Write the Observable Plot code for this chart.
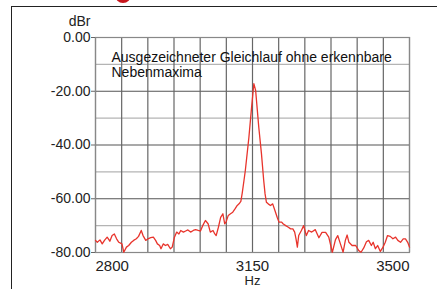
<!DOCTYPE html>
<html>
<head>
<meta charset="utf-8">
<script src="https://cdn.jsdelivr.net/npm/d3@7"></script>
<script src="https://cdn.jsdelivr.net/npm/@observablehq/plot@0.6"></script>
<style>
  html, body { margin: 0; padding: 0; background: #fff; overflow: hidden; }
  #wrap { position: relative; width: 437px; height: 289px; overflow: hidden; font-family: "Liberation Sans", Arial, sans-serif; }
  #wrap svg { position: absolute; left: 0; top: 0; }
  #border { position: absolute; left: 11px; top: 6px; right: -2px; bottom: -2px; border-left: 1.5px solid #222; border-top: 1.5px solid #222; }
  #dot { position: absolute; left: 115px; top: -13px; width: 16px; height: 16px; border-radius: 50%; background: #c8161d; }
</style>
</head>
<body>
<div id="wrap"><div id="dot"></div><div id="border"></div></div>
<script>
const freq = [2800,2804,2810,2815,2820,2826,2832,2837,2842,2847,2852,2859,2863,2869,2874,2880,2885,2891,2896,2902,2906,2912,2917,2923,2929,2934,2938,2943,2946,2951,2956,2961,2967,2971,2976,2981,2986,2990,2996,3001,3006,3012,3018,3023,3029,3034,3039,3045,3051,3056,3062,3066,3069,3074,3079,3084,3088,3091,3096,3101,3106,3111,3116,3120,3124,3127,3131,3134,3142,3148,3153,3157,3164,3170,3175,3178,3181,3185,3190,3195,3200,3205,3209,3215,3218,3224,3230,3235,3240,3244,3247,3250,3253,3259,3264,3270,3275,3282,3290,3298,3305,3313,3320,3328,3335,3340,3346,3352,3357,3361,3365,3372,3380,3387,3392,3398,3404,3409,3415,3419,3424,3429,3435,3441,3446,3451,3457,3463,3469,3474,3480,3486,3491,3496,3500];
const dbr = [-75.5,-76.2,-75.3,-76.8,-75.5,-74.3,-75.8,-73.7,-73.1,-74.9,-76.2,-76.8,-79.9,-78,-77.4,-76.2,-75.5,-74.9,-74,-71.8,-73.7,-75.5,-74.9,-74.5,-74.3,-75.5,-76.8,-77.4,-78.6,-76.8,-77.4,-77,-78.6,-78,-74.3,-72.4,-73.1,-71.8,-72.4,-72,-71.6,-72.4,-71.8,-71.5,-71.8,-72,-70,-68.1,-69.3,-72.4,-71.8,-73.1,-73.7,-70.6,-66.9,-65.6,-69.3,-68.7,-66.2,-65.6,-65,-63.8,-62.5,-61.9,-61,-58,-53.2,-49.5,-37.1,-25.9,-17.2,-19.7,-33.4,-43.3,-53.2,-58.2,-61.3,-61.9,-62.5,-61.9,-64.4,-66.9,-68.7,-68.7,-69.3,-70,-70.6,-71.2,-71.2,-72.4,-74.9,-78,-73.7,-71.8,-70,-73.7,-71.8,-72.4,-71.5,-74.5,-72.5,-72.5,-74.3,-79.9,-75.2,-73.7,-76.8,-79.9,-75.5,-73.5,-76.2,-77.4,-77.4,-79.3,-79.9,-78.3,-76,-75.5,-77.4,-76.2,-78.6,-77.4,-79.6,-78,-76.2,-73.7,-74,-74.9,-74.3,-75.5,-76.2,-74.9,-74.9,-76.2,-78];
const xTickLabels = [2800, 3150, 3500];
const yTickLabels = [0, -20, -40, -60, -80];
const yMinorGrid = [-10, -30, -50, -70];
const xGrid = d3.range(13).map(i => 2800 + i * 700 / 12);
const xUnit = "Hz";
const yUnit = "dBr";
const note = "Ausgezeichneter Gleichlauf ohne erkennbare\nNebenmaxima";

const data = freq.map((f, i) => ({f, v: dbr[i]}));

const chart = Plot.plot({
  width: 437,
  height: 289,
  marginLeft: 95,
  marginRight: 28,
  marginTop: 37,
  marginBottom: 37,
  style: {fontFamily: "'Liberation Sans', Arial, sans-serif", background: "transparent", overflow: "visible"},
  x: {domain: [2800, 3500], axis: null},
  y: {domain: [-80, 0], axis: null},
  marks: [
    Plot.ruleY(yMinorGrid, {stroke: "#b4b4b4", strokeWidth: 1.2}),
    Plot.ruleY(yTickLabels, {stroke: "#555", strokeWidth: 1.2}),
    Plot.ruleX(xGrid, {stroke: "#666", strokeWidth: 1.2}),
    Plot.frame({stroke: "#888", strokeWidth: 1.2}),
    Plot.axisY(yTickLabels, {tickSize: 4, tickPadding: 1, tickFormat: d => d.toFixed(2), fontSize: 14, color: "#222", stroke: "#666", label: null}),
    Plot.text([xTickLabels[0]], {x: d => d, frameAnchor: "bottom", textAnchor: "start", lineAnchor: "top", dy: 8, fontSize: 15, fill: "#222", text: d => String(d), letterSpacing: "0.6px"}),
    Plot.text([xTickLabels[1]], {x: d => d, frameAnchor: "bottom", textAnchor: "middle", lineAnchor: "top", dy: 8, fontSize: 15, fill: "#222", text: d => String(d), letterSpacing: "0.6px"}),
    Plot.text([xTickLabels[2]], {x: d => d, frameAnchor: "bottom", textAnchor: "end", lineAnchor: "top", dy: 8, fontSize: 15, fill: "#222", text: d => String(d), letterSpacing: "0.6px"}),
    Plot.text([xUnit], {x: xTickLabels[1], frameAnchor: "bottom", textAnchor: "middle", lineAnchor: "top", dy: 23, fontSize: 13, fill: "#222", text: d => d, letterSpacing: "1px"}),
    Plot.text([yUnit], {frameAnchor: "top-left", textAnchor: "end", lineAnchor: "bottom", dx: -5, dy: -12, fontSize: 14, fill: "#222", text: d => d}),
    Plot.text([note], {frameAnchor: "top-left", textAnchor: "start", lineAnchor: "top", dx: 16, dy: 13.5, fontSize: 14, lineHeight: 1.07, fill: "#111", text: d => d}),
    Plot.line(data, {x: "f", y: "v", stroke: "#e8342c", strokeWidth: 1.3})
  ]
});
document.getElementById("wrap").appendChild(chart);
</script>
</body>
</html>
